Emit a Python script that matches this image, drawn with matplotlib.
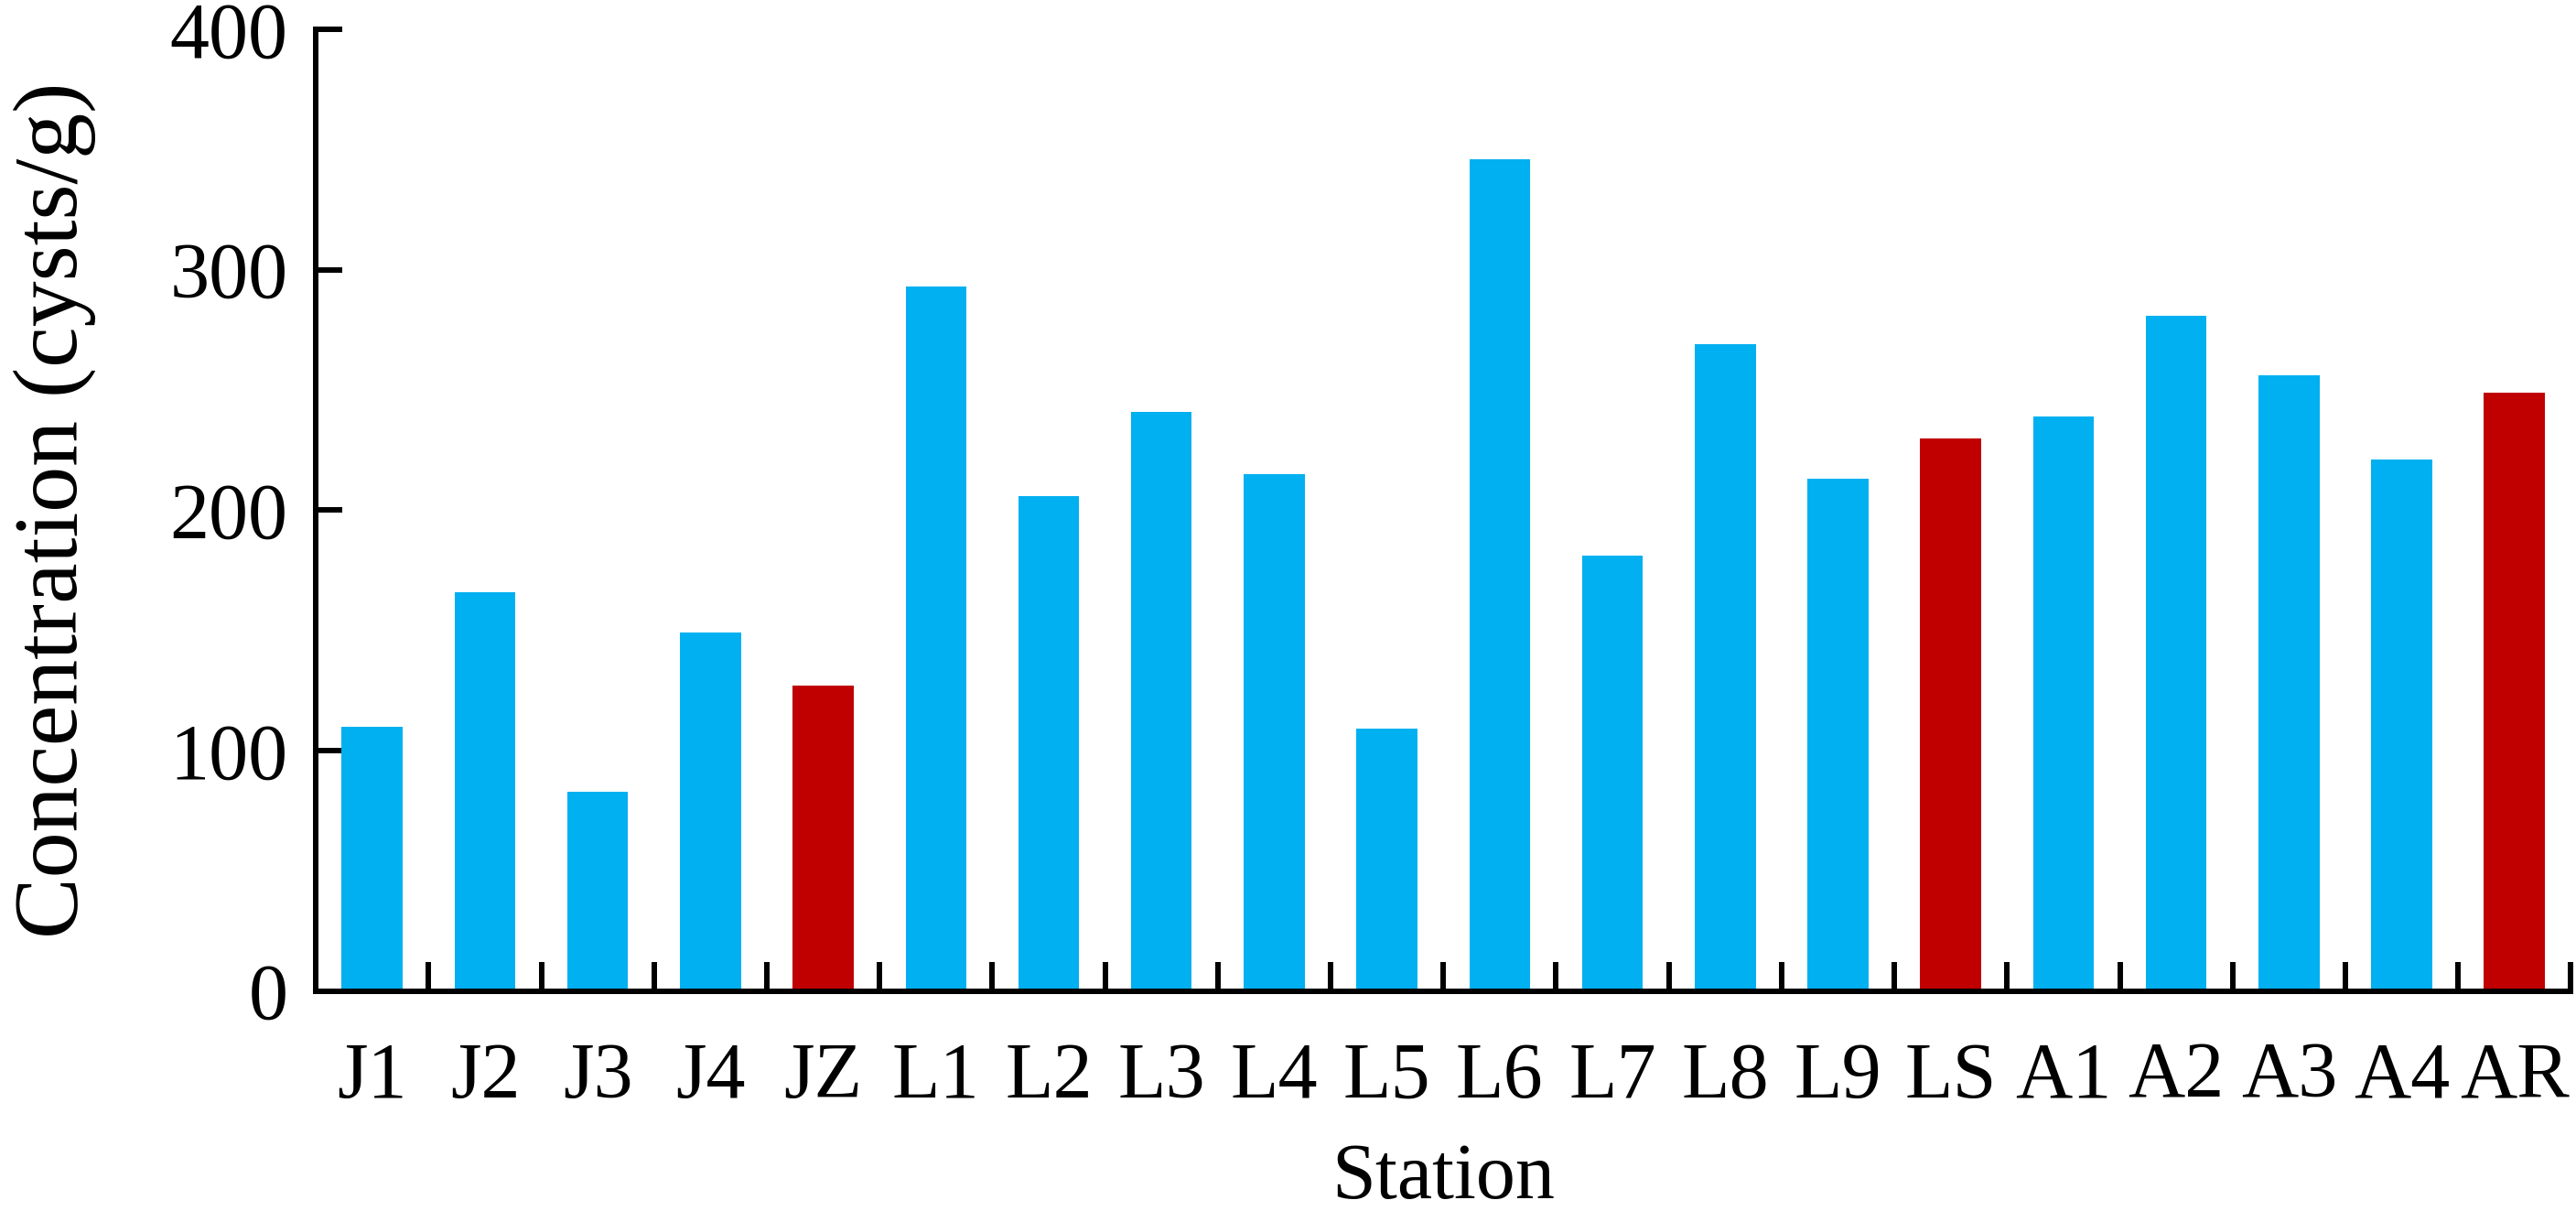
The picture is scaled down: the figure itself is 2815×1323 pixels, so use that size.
import matplotlib
matplotlib.use("Agg")
import matplotlib.pyplot as plt
from matplotlib.ticker import FixedLocator, NullFormatter

stations = ["J1", "J2", "J3", "J4", "JZ", "L1", "L2", "L3", "L4", "L5",
            "L6", "L7", "L8", "L9", "LS", "A1", "A2", "A3", "A4", "AR"]
concentration = [110, 166, 83, 149, 127, 293, 206, 241, 215, 109,
                 346, 181, 269, 213, 230, 239, 281, 256, 221, 249]
highlight = ["JZ", "LS", "AR"]

blue = "#00B0F0"
red = "#C00000"

plt.rcParams["font.family"] = ["Liberation Serif", "DejaVu Serif"]

fig = plt.figure(figsize=(28.15, 13.23), dpi=100)
ax = fig.add_axes([0.1226, 0.1817, 0.8754, 0.7939])

x = list(range(len(stations)))
colors = [red if s in highlight else blue for s in stations]
ax.bar(x, concentration, width=0.54, color=colors, zorder=2)

ax.set_xlim(-0.5, len(stations) - 0.5)
ax.set_ylim(0, 400)
ax.set_yticks([0, 100, 200, 300, 400])

ax.set_xticks(x)
ax.set_xticklabels(stations)
ax.xaxis.set_minor_locator(FixedLocator([i + 0.5 for i in range(len(stations))]))
ax.xaxis.set_minor_formatter(NullFormatter())

for sp in ["top", "right"]:
    ax.spines[sp].set_visible(False)
for sp in ["left", "bottom"]:
    ax.spines[sp].set_linewidth(4.3)
    ax.spines[sp].set_color("black")

ax.tick_params(axis="x", which="major", length=0, pad=40, labelsize=62)
ax.tick_params(axis="x", which="minor", direction="in", length=23, width=4.3)
ax.tick_params(axis="y", which="major", direction="in", length=21, width=4.3,
               pad=22, labelsize=62)

ax.set_xlabel("Station", fontsize=62, labelpad=22)
ax.set_ylabel("Concentration (cysts/g)", fontsize=72, labelpad=58)

fig.savefig("out.png", dpi=100)
